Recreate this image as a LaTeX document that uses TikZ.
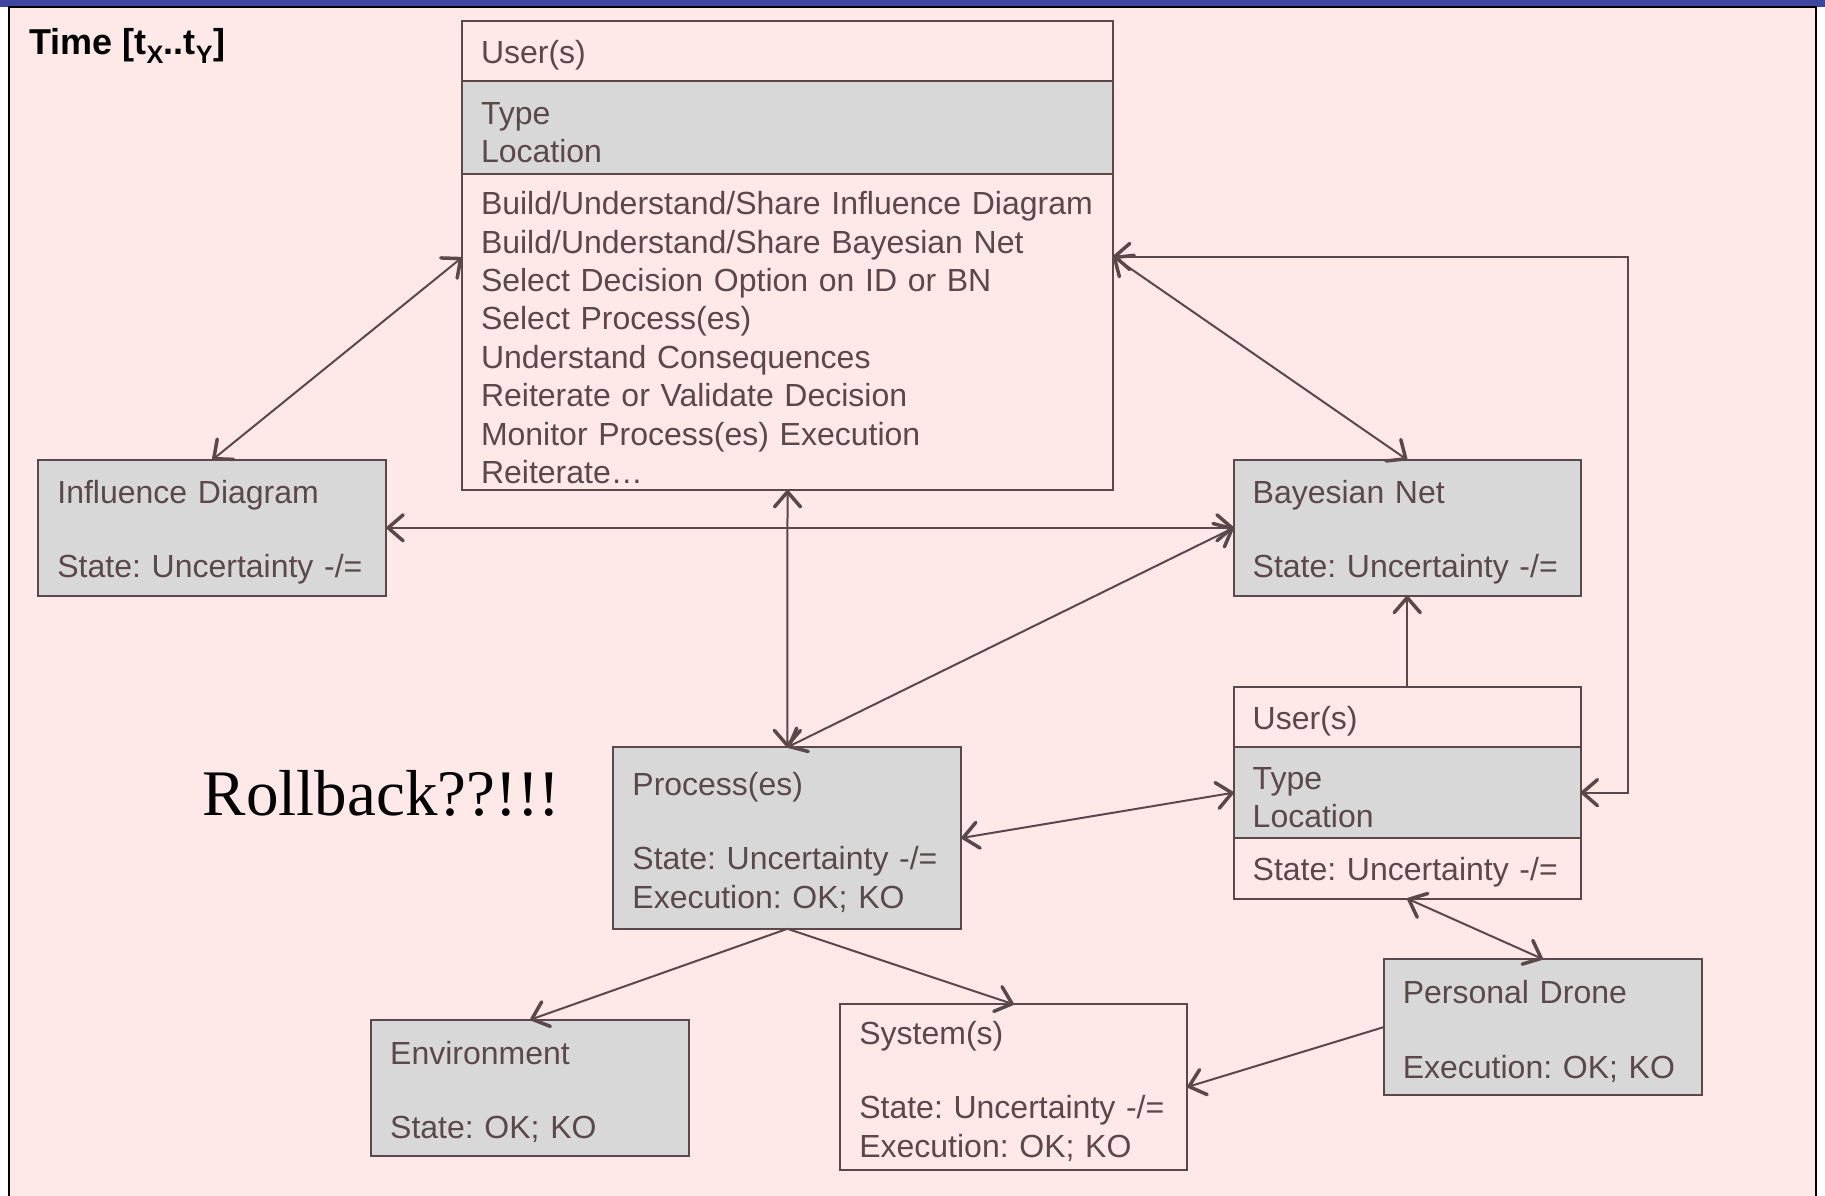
\documentclass[tikz,border=0pt]{standalone}
\usepackage{fontspec}
\setmainfont{Liberation Sans}
\newfontfamily\rollfont{Liberation Serif}
\usetikzlibrary{arrows.meta,positioning}
\definecolor{ink}{RGB}{90,72,75}
\definecolor{boxgray}{RGB}{217,216,217}
\definecolor{slidebg}{RGB}{255,232,232}
\definecolor{slidebar}{RGB}{62,70,160}
\newcommand{\boxfont}{\fontsize{32}{38.4}\selectfont}
\frenchspacing

\begin{document}
\begin{tikzpicture}[x=1pt,y=-1pt,
  >={Straight Barb[length=15pt,width=26pt,line width=3.5pt,round]},
  box/.style={draw=ink,line width=2pt,text=ink,font=\boxfont,align=left,
    inner xsep=19pt,inner ysep=0pt,outer sep=0pt,
    execute at begin node=\rule{0pt}{32pt}},
  gbox/.style={box,fill=boxgray},
  ed/.style={line width=2pt,draw=ink}]
\useasboundingbox (0,0) rectangle (1825,1196);
% slide frame
\fill[white] (0,0) rectangle (1825,1196);
\fill[slidebar] (0,0) rectangle (1825,7);
\fill[slidebg] (9,7) rectangle (1816,1196);
\draw[black,line width=1.5pt] (9,1196) -- (9,7) -- (1816,7) -- (1816,1196);
\node[anchor=base west,inner sep=0pt,font=\fontsize{36}{43}\selectfont\bfseries] (title)
  at (29,54.7) {Time [t\textsubscript{X}..t\textsubscript{Y}]};
% users (top)
\node[box,text width=613pt,minimum height=60.5pt] (uhead) at (787.5,51.25) {User(s)};
\node[gbox,text width=613pt,minimum height=92pt,below=0pt of uhead] (uattr) {Type\\Location};
\node[box,text width=613pt,minimum height=316.6pt,below=0pt of uattr] (ulist)
  {\rule{0pt}{35pt}Build/Understand/Share Influence Diagram\\
   Build/Understand/Share Bayesian Net\\
   Select Decision Option on ID or BN\\
   Select Process(es)\\
   Understand Consequences\\
   Reiterate or Validate Decision\\
   Monitor Process(es) Execution\\
   Reiterate…};
\node[gbox,text width=310pt,minimum height=136pt] (id) at (212.4,527.8)
  {Influence Diagram\\[36pt]State: Uncertainty -/=};
\node[gbox,text width=309pt,minimum height=136pt] (bn) at (1407.2,527.8)
  {Bayesian Net\\[36pt]State: Uncertainty -/=};
\node[gbox,text width=310pt,minimum height=181.6pt] (proc) at (787.4,838)
  {Process(es)\\[36pt]State: Uncertainty -/=\\Execution: OK; KO};
% users (bottom)
\node[box,text width=309pt,minimum height=60.5pt] (u2head) at (1407.2,717) {User(s)};
\node[gbox,text width=309pt,minimum height=90.8pt,below=0pt of u2head] (u2attr) {Type\\Location};
\node[box,text width=309pt,minimum height=60.5pt,below=0pt of u2attr] (u2state) {State: Uncertainty -/=};
\node[gbox,text width=280pt,minimum height=136pt] (drone) at (1542.8,1027.1)
  {Personal Drone\\[36pt]Execution: OK; KO};
\node[gbox,text width=280pt,minimum height=136pt] (env) at (530.2,1087.7)
  {Environment\\[36pt]State: OK; KO};
\node[box,text width=309pt,minimum height=165.3pt] (sys) at (1013.8,1087)
  {System(s)\\[36pt]State: Uncertainty -/=\\Execution: OK; KO};
\node[font=\rollfont\fontsize{65}{72}\selectfont] (roll) at (381.6,793) {Rollback??!!!};
% connectors
\draw[ed,<->] (id.north) -- ([yshift=-84pt]ulist.north west);
\draw[ed,<->] ([yshift=-83pt]ulist.north east) -- (bn.north);
\draw[ed,<->] ([yshift=-83pt]ulist.north east) -- ++(515,0) |- (u2attr.east);
\draw[ed,<->] (id.east) -- (bn.west);
\draw[ed,<->] (ulist.south) -- (proc.north);
\draw[ed,<->] (bn.west) -- (proc.north);
\draw[ed,->] (u2head.north) -- (bn.south);
\draw[ed,<->] (proc.east) -- (u2attr.west);
\draw[ed,->] (proc.south) -- (env.north);
\draw[ed,->] (proc.south) -- (sys.north);
\draw[ed,<->] (u2state.south) -- (drone.north);
\draw[ed,->] (drone.west) -- (sys.east);
\end{tikzpicture}
\end{document}
